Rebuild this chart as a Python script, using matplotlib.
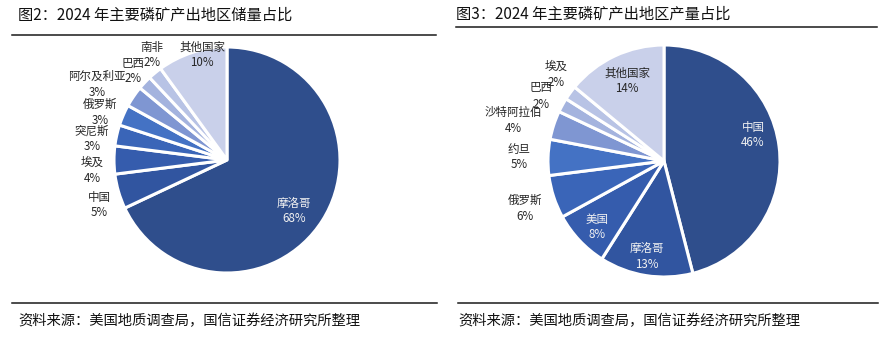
import matplotlib.pyplot as plt
from matplotlib.lines import Line2D

plt.rcParams['font.family'] = ['Noto Sans CJK SC', 'DejaVu Sans']

W, H = 888, 337

# 储量占比
reserve_names = ['摩洛哥', '中国', '埃及', '突尼斯', '俄罗斯', '阿尔及利亚', '巴西', '南非', '其他国家']
reserve_share = [68, 5, 4, 3, 3, 3, 2, 2, 10]

# 产量占比
output_names = ['中国', '摩洛哥', '美国', '俄罗斯', '约旦', '沙特阿拉伯', '巴西', '埃及', '其他国家']
output_share = [46, 13, 8, 6, 5, 4, 2, 2, 14]

shades = ['#2f4e8c', '#3155a0', '#355cad', '#3a65b8', '#4472c4',
          '#7f96d2', '#a4b3de', '#b8c3e5', '#c9d0ea']

# label centres in pixels (x, y from top) and whether the label sits inside
reserve_label_pos = [(294, 211, True), (99, 205, False), (92, 170, False), (92, 139, False),
                     (100, 112, False), (97, 84, False), (133, 71, False), (152, 55, False),
                     (202, 55, True)]
output_label_pos = [(753, 135, True), (647, 256, True), (597, 227, True), (525, 208, False),
                    (519, 157, False), (513, 120, False), (541, 96, False), (556, 74, False),
                    (627, 81, True)]

fig = plt.figure(figsize=(W / 100, H / 100), dpi=100)
ax = fig.add_axes([0, 0, 1, 1])


def draw_pie(values, names, center, radius, label_pos, dark_inside):
    ax.pie(values, colors=shades, startangle=90, counterclock=False,
           center=(center[0], H - center[1]), radius=radius,
           wedgeprops=dict(edgecolor='white', linewidth=2.2))
    for i, (name, v) in enumerate(zip(names, values)):
        x, y, inside = label_pos[i]
        color = '#262626'
        if inside and i not in dark_inside:
            color = '#f2f2f2'
        ax.text(x, H - y, f'{name}\n{v}%', ha='center', va='center',
                fontsize=8.3, color=color, linespacing=1.3)


draw_pie(reserve_share, reserve_names, (227, 160), 113, reserve_label_pos, [8])
draw_pie(output_share, output_names, (664, 161), 116, output_label_pos, [8])

# pie() resets the limits, so set the pixel frame afterwards
ax.set_xlim(0, W)
ax.set_ylim(0, H)
ax.set_aspect('equal')
ax.axis('off')

# titles, rules and sources
fig.text(18 / W, 1 - 15 / H, '图2：2024 年主要磷矿产出地区储量占比', fontsize=11,
         va='center', ha='left', color='#111111')
fig.text(456 / W, 1 - 14 / H, '图3：2024 年主要磷矿产出地区产量占比', fontsize=11,
         va='center', ha='left', color='#111111')
for x0, x1, y in [(12, 436, 35), (456, 877, 27), (12, 437, 303), (458, 878, 303)]:
    fig.add_artist(Line2D([x0 / W, x1 / W], [1 - y / H, 1 - y / H],
                          color='#1a1a1a', linewidth=1.1))
for x in (18, 458):
    fig.text(x / W, 1 - 321 / H, '资料来源：美国地质调查局，国信证券经济研究所整理',
             fontsize=10.3, va='center', ha='left', color='#111111')

fig.savefig('out.png', dpi=100)
